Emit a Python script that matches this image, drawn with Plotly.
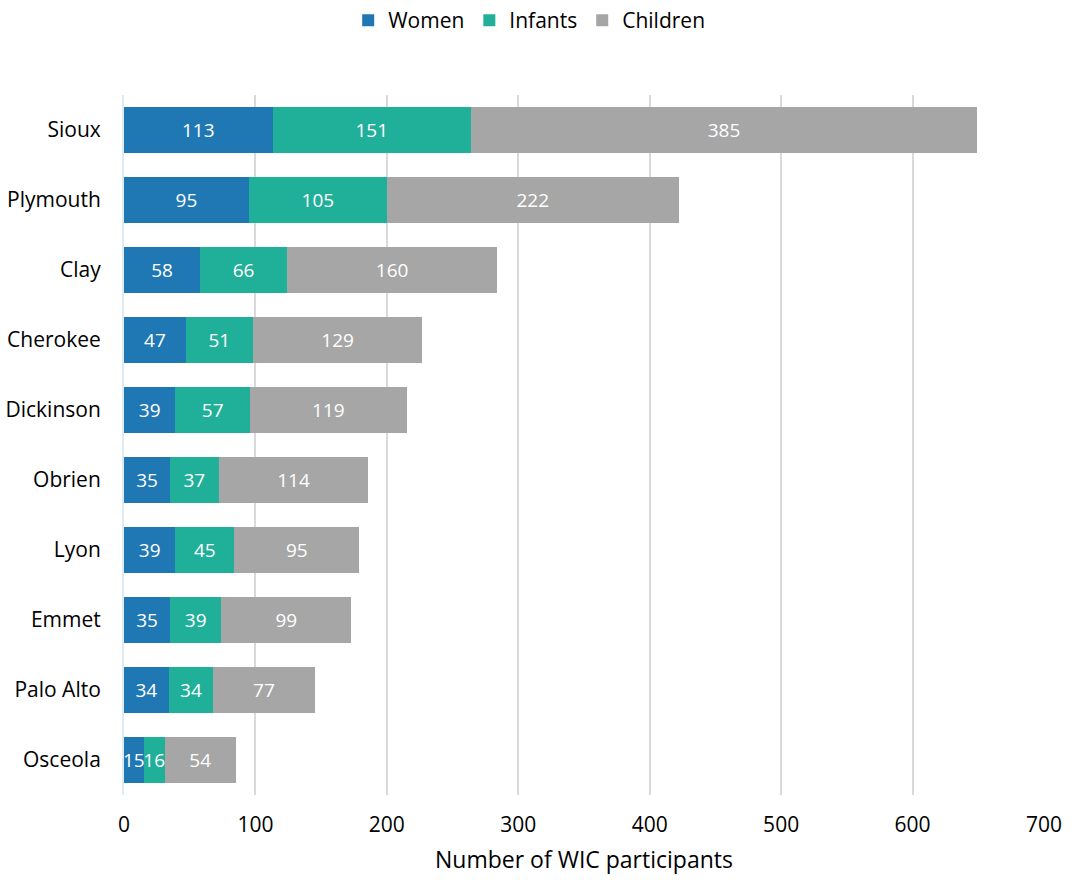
import plotly.graph_objects as go

counties = ["Sioux", "Plymouth", "Clay", "Cherokee", "Dickinson",
            "Obrien", "Lyon", "Emmet", "Palo Alto", "Osceola"]
women = [113, 95, 58, 47, 39, 35, 39, 35, 34, 15]
infants = [151, 105, 66, 51, 57, 37, 45, 39, 34, 16]
children = [385, 222, 160, 129, 119, 114, 95, 99, 77, 54]
x_ticks = [0, 100, 200, 300, 400, 500, 600, 700]

FONT = "Open Sans"

series = [
    ("Women", women, "#1F77B4"),
    ("Infants", infants, "#20B09A"),
    ("Children", children, "#A6A6A6"),
]

fig = go.Figure()
for name, vals, color in series:
    fig.add_trace(go.Bar(
        name=name, y=counties, x=vals, orientation="h",
        marker=dict(color=color, line=dict(width=0)),
        text=[str(v) for v in vals], textposition="inside",
        insidetextanchor="middle",
        textfont=dict(family=FONT, size=19, color="white"),
        constraintext="none", cliponaxis=False,
    ))

fig.update_layout(
    barmode="stack", bargap=0.34,
    width=1080, height=880,
    margin=dict(l=124, r=36, t=95, b=85),
    paper_bgcolor="white", plot_bgcolor="white",
    font=dict(family=FONT, size=21, color="#000000"),
    legend=dict(orientation="h", x=0.49, xref="container", xanchor="center",
                y=1.0, yref="container", yanchor="top",
                font=dict(family=FONT, size=21, color="#000000"),
                itemwidth=30, traceorder="normal"),
    xaxis=dict(range=[0, 700], tickvals=x_ticks, showgrid=True,
               gridcolor="#D9D9D9", gridwidth=2, zeroline=False,
               showline=False, ticks="", ticklabelstandoff=15,
               automargin=False,
               title=dict(text="Number of WIC participants",
                          font=dict(family=FONT, size=23), standoff=14),
               tickfont=dict(family=FONT, size=21)),
    yaxis=dict(autorange="reversed", showline=True, linecolor="#DDEBF7",
               linewidth=2, ticks="", ticklabelstandoff=17,
               automargin=False,
               tickfont=dict(family=FONT, size=21), showgrid=False),
)

fig.write_html("out.html")
